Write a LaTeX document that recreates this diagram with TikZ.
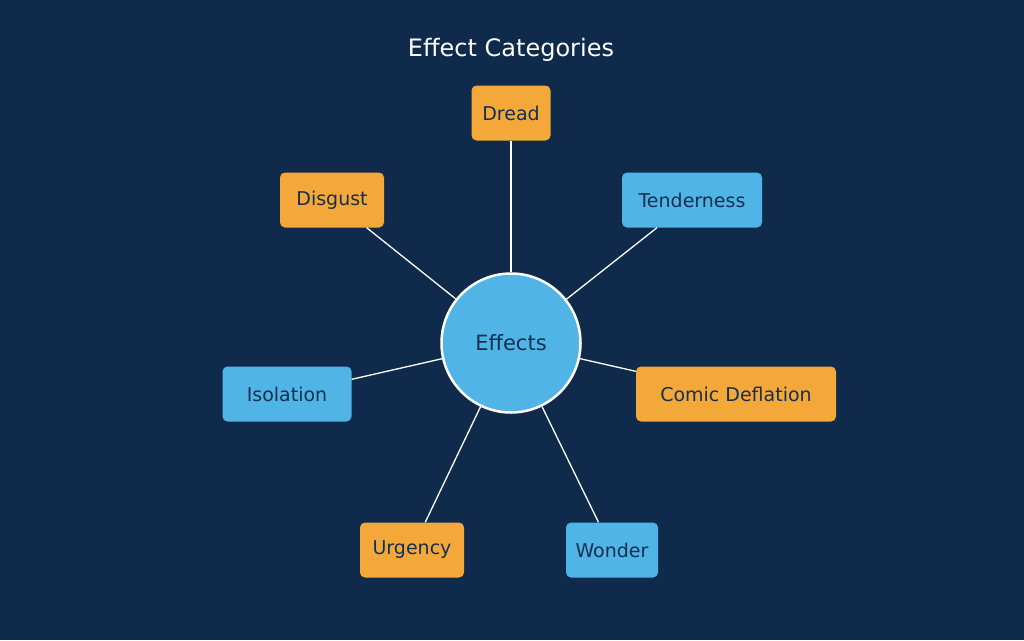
\documentclass[tikz,border=0pt]{standalone}
\usepackage{fontspec}
\setmainfont{DejaVu Sans}
\definecolor{bg}{HTML}{0F2A4A}
\definecolor{org}{HTML}{F5A83A}
\definecolor{blu}{HTML}{50B4E6}
\definecolor{txt}{HTML}{15304F}
\begin{document}
\begin{tikzpicture}[x=1pt,y=-1pt,
  box/.style={rectangle,rounded corners=5pt,minimum height=55pt,inner sep=0pt,text=txt,font=\fontsize{19}{22}\selectfont},
  ob/.style={box,fill=org},
  bb/.style={box,fill=blu},
  link/.style={draw=white,line width=1.3pt}]
\fill[bg] (0,0) rectangle (1024,640);
\useasboundingbox (0,0) rectangle (1024,640);
\node[text=white,font=\fontsize{24}{28}\selectfont] (title) at (511,50) {Effect Categories};
\node[ob,minimum width=79pt] (dread) at (511,113) {Dread};
\node[ob,minimum width=104pt] (disgust) at (332,200) {Disgust};
\node[bb,minimum width=140pt] (tender) at (692,200) {Tenderness};
\node[bb,minimum width=129pt] (iso) at (287,394) {Isolation};
\node[ob,minimum width=200pt] (comic) at (736,394) {Comic Deflation};
\node[ob,minimum width=104pt] (urg) at (412,550) {Urgency};
\node[bb,minimum width=92pt] (won) at (612,550) {Wonder};
\node[circle,fill=blu,draw=white,line width=2.5pt,minimum size=139pt,inner sep=0pt,text=txt,font=\fontsize{21}{24}\selectfont] (c) at (511,343) {Effects};
\foreach \n in {dread,disgust,tender,iso,comic,urg,won} \draw[link] (c) -- (\n);
\end{tikzpicture}
\end{document}
